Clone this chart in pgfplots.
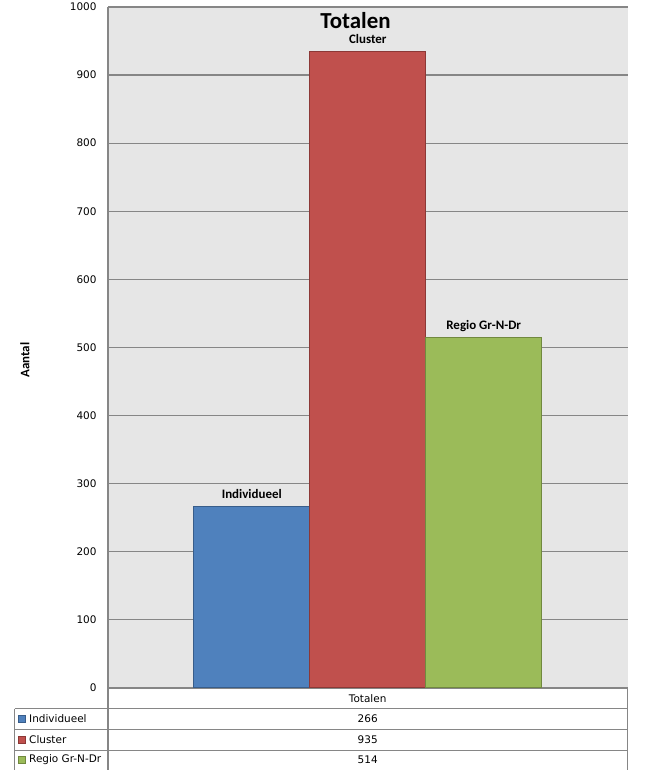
\documentclass[border=0pt]{standalone}
\usepackage{pgfplots}
\pgfplotsset{compat=1.18}
\usepackage{fontspec}
\setmainfont{Carlito}
\newfontfamily\tah{DejaVu Sans}
\definecolor{bgray}{HTML}{E6E6E6}
\definecolor{lgray}{HTML}{868686}
\definecolor{cblue}{HTML}{4F81BD}
\definecolor{eblue}{HTML}{385D8A}
\definecolor{cred}{HTML}{C0504D}
\definecolor{ered}{HTML}{8C3836}
\definecolor{cgreen}{HTML}{9BBB59}
\definecolor{egreen}{HTML}{71893F}
\begin{document}
\begin{tikzpicture}[x=1bp,y=1bp]
\useasboundingbox (0,0) rectangle (658,770);
\begin{axis}[
    at={(108bp,82bp)}, anchor=south west,
    scale only axis, width=519.5bp, height=681bp,
    xmin=-2.24, xmax=2.24, ymin=0, ymax=1000,
    axis background/.style={fill=bgray},
    axis lines*=left,
    axis line style={lgray, line width=1.2bp},
    xtick=\empty,
    ytick={0,100,...,1000},
    major tick length=0pt,
    ymajorgrids,
    grid style={lgray, line width=1.2bp},
    /pgf/number format/assume math mode=true,
    /pgf/number format/1000 sep={},
    yticklabel style={font=\tah\fontsize{10.5}{12}\selectfont, xshift=-8bp},
    clip=false,
    every node near coord/.style={font=\bfseries\fontsize{13}{15}\selectfont, anchor=base, inner sep=0pt, yshift=8bp, black},
  ]
  \addplot[ybar, bar width=1, bar shift=0pt, fill=cblue, draw=eblue, line width=1bp,
    nodes near coords={Individueel}] coordinates {(-1,266)};
  \addplot[ybar, bar width=1, bar shift=0pt, fill=cred, draw=ered, line width=1bp,
    nodes near coords={Cluster}] coordinates {(0,935)};
  \addplot[ybar, bar width=1, bar shift=0pt, fill=cgreen, draw=egreen, line width=1bp,
    nodes near coords={Regio Gr-N-Dr}] coordinates {(1,514)};
\end{axis}
% title and axis label
\node[anchor=base, inner sep=0pt, font=\bfseries\fontsize{23}{26}\selectfont] at (355.5,741.5) {Totalen};
\node[rotate=90, font=\bfseries\fontsize{13}{15}\selectfont] at (25,410) {Aantal};
% data table
\begin{scope}[lgray, line width=1.2bp]
  \draw (108,82) -- (108,0);
  \draw (627.3,82) -- (627.3,0);
  \draw (14.7,61.3) -- (627.3,61.3);
  \draw (14.7,40.3) -- (627.3,40.3);
  \draw (14.7,19.7) -- (627.3,19.7);
  \draw (14.7,61.3) -- (14.7,0);
\end{scope}
\begin{scope}[font=\tah\fontsize{10.5}{12}\selectfont]
  \node at (367.7,71.5) {Totalen};
  \node at (367.7,51) {266};
  \node at (367.7,30) {935};
  \node at (367.7,10) {514};
  \node[anchor=west, inner sep=0pt] at (29,51) {Individueel};
  \node[anchor=west, inner sep=0pt] at (29,30) {Cluster};
  \node[anchor=west, inner sep=0pt] at (29,10) {Regio Gr-N-Dr};
\end{scope}
\filldraw[fill=cblue, draw=eblue, line width=0.8bp] (18.5,47.5) rectangle (25.5,54.5);
\filldraw[fill=cred, draw=ered, line width=0.8bp] (18.5,26.5) rectangle (25.5,33.5);
\filldraw[fill=cgreen, draw=egreen, line width=0.8bp] (18.5,6.5) rectangle (25.5,13.5);
\end{tikzpicture}
\end{document}
